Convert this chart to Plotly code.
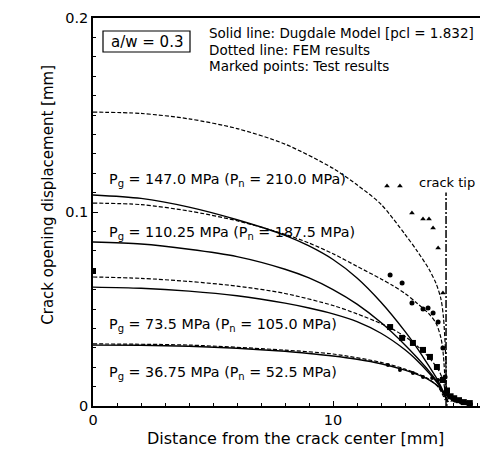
import plotly.graph_objects as go

# Crack opening displacement profiles, a/w = 0.3
# x: distance from crack center [mm], y: COD [mm]

# Dugdale model (solid lines)
dug_x = [0, 2, 4, 6, 8, 9, 10, 11, 12, 13, 13.5, 14, 14.4, 14.79]
dug_147_y = [0.1088, 0.1070, 0.1025, 0.0960, 0.0880, 0.0825, 0.0755, 0.0660, 0.0535, 0.0385, 0.0300, 0.0205, 0.0125, 0.0021]
dug_110_y = [0.0845, 0.0835, 0.0808, 0.0770, 0.0705, 0.0660, 0.0600, 0.0525, 0.0430, 0.0315, 0.0250, 0.0180, 0.0115, 0.0021]
dug_73_y = [0.0613, 0.0607, 0.0592, 0.0568, 0.0530, 0.0505, 0.0475, 0.0435, 0.0375, 0.0290, 0.0235, 0.0170, 0.0110, 0.0021]
dug_36_y = [0.0314, 0.0313, 0.0308, 0.0298, 0.0282, 0.0271, 0.0258, 0.0241, 0.0218, 0.0185, 0.0163, 0.0135, 0.0100, 0.0021]

# FEM results (dotted lines)
fem_147_x = [0, 2, 4, 6, 8, 10, 11, 12, 13, 13.5, 14, 14.3, 14.5, 14.6, 14.68, 14.72, 14.75]
fem_147_y = [0.1515, 0.1508, 0.1480, 0.1430, 0.1350, 0.1225, 0.1140, 0.1040, 0.0885, 0.0800, 0.0705, 0.0630, 0.0550, 0.0460, 0.0300, 0.0130, 0.0]
fem_110_x = [0, 2, 4, 6, 8, 9, 10, 11, 12, 12.5, 13, 13.5, 14, 14.3, 14.5, 14.6, 14.71]
fem_110_y = [0.1046, 0.1038, 0.1005, 0.0955, 0.0885, 0.0840, 0.0785, 0.0720, 0.0655, 0.0620, 0.0580, 0.0530, 0.0475, 0.0425, 0.0350, 0.0260, 0.0031]
fem_73_x = [0, 2, 4, 6, 8, 10, 11, 12, 12.5, 13, 13.5, 14, 14.4, 14.6, 14.71]
fem_73_y = [0.0665, 0.0658, 0.0642, 0.0618, 0.0580, 0.0518, 0.0475, 0.0425, 0.0395, 0.0358, 0.0310, 0.0250, 0.0185, 0.0125, 0.0031]
fem_36_x = [0, 4, 8, 10, 12, 13, 14, 14.4, 14.67]
fem_36_y = [0.0320, 0.0314, 0.0288, 0.0268, 0.0225, 0.0190, 0.0138, 0.0095, 0.0031]

# Test results (marked points)
test_147_x = [12.25, 12.79, 13.29, 13.75, 14.0, 14.17, 14.38, 14.58, 14.8, 15.0]
test_147_y = [0.1134, 0.1134, 0.0995, 0.0964, 0.0964, 0.0918, 0.0814, 0.0582, 0.006, 0.003]
test_110_x = [12.38, 12.88, 13.29, 13.75, 13.96, 14.17, 14.38, 14.58, 14.67, 14.85, 15.1, 15.35, 15.6]
test_110_y = [0.0675, 0.0634, 0.0531, 0.0500, 0.0505, 0.0479, 0.0433, 0.0299, 0.0149, 0.005, 0.003, 0.002, 0.0015]
test_73_x = [0, 12.38, 12.88, 13.33, 13.75, 14.04, 14.33, 14.58, 14.75, 14.9, 15.05, 15.25, 15.45, 15.7]
test_73_y = [0.0696, 0.0407, 0.0351, 0.0325, 0.0289, 0.0253, 0.0201, 0.0134, 0.008, 0.005, 0.004, 0.003, 0.002, 0.0015]
test_36_x = [12.29, 12.79, 13.33, 13.75, 14.13, 14.38, 14.7, 14.95, 15.2, 15.5, 15.75]
test_36_y = [0.0211, 0.0186, 0.0170, 0.0149, 0.0144, 0.0134, 0.008, 0.004, 0.003, 0.002, 0.001]

crack_tip_x = 14.71
crack_tip_top = 0.110

curve_labels = [
    ("P<sub>g</sub> = 147.0 MPa (P<sub>n</sub> = 210.0 MPa)", 0.1165),
    ("P<sub>g</sub> = 110.25 MPa (P<sub>n</sub> = 187.5 MPa)", 0.0892),
    ("P<sub>g</sub> = 73.5 MPa (P<sub>n</sub> = 105.0 MPa)", 0.0418),
    ("P<sub>g</sub> = 36.75 MPa (P<sub>n</sub> = 52.5 MPa)", 0.0170),
]
legend_lines = [
    "Solid line: Dugdale Model [pcl = 1.832]",
    "Dotted line: FEM results",
    "Marked points: Test results",
]

FONT = "DejaVu Sans, sans-serif"
L, T, W, H = 93, 18, 387, 388  # plot area in pixels


def px(xp):
    return (xp - L) / W


def py(yp):
    return (T + H - yp) / H


fig = go.Figure()

for ys in [dug_147_y, dug_110_y, dug_73_y, dug_36_y]:
    fig.add_trace(go.Scatter(x=dug_x, y=ys, mode="lines",
                             line=dict(color="black", width=1.4, shape="spline", smoothing=0.8),
                             showlegend=False))

for xs, ys in [(fem_147_x, fem_147_y), (fem_110_x, fem_110_y),
               (fem_73_x, fem_73_y), (fem_36_x, fem_36_y)]:
    fig.add_trace(go.Scatter(x=xs, y=ys, mode="lines",
                             line=dict(color="black", width=1.2, dash="4px,2px",
                                       shape="spline", smoothing=0.8),
                             showlegend=False))

for xs, ys, sym, sz in [(test_147_x, test_147_y, "triangle-up", 5),
                        (test_110_x, test_110_y, "circle", 5),
                        (test_73_x, test_73_y, "square", 6),
                        (test_36_x, test_36_y, "circle", 4)]:
    fig.add_trace(go.Scatter(x=xs, y=ys, mode="markers",
                             marker=dict(color="black", symbol=sym, size=sz, line=dict(width=0)),
                             showlegend=False))

# crack tip line
fig.add_trace(go.Scatter(x=[crack_tip_x, crack_tip_x], y=[0, crack_tip_top], mode="lines",
                         line=dict(color="black", width=1.5, dash="8px,2px,2px,2px"),
                         showlegend=False))

annotations = []
for text, yv in curve_labels:
    annotations.append(dict(x=0.58, y=yv, xref="x", yref="y", text=text, showarrow=False,
                            xanchor="left", yanchor="middle",
                            font=dict(family=FONT, size=14.3, color="black")))
for i, t in enumerate(legend_lines):
    annotations.append(dict(x=px(207), y=py(33 + 16.5 * i),
                            xref="paper", yref="paper", text=t, showarrow=False,
                            xanchor="left", yanchor="middle",
                            font=dict(family=FONT, size=13.5, color="black")))
annotations.append(dict(x=px(146.5), y=py(42), xref="paper", yref="paper",
                        text="a/w = 0.3", showarrow=False, xanchor="center", yanchor="middle",
                        font=dict(family=FONT, size=15, color="black")))
annotations.append(dict(x=13.5, y=0.115, xref="x", yref="y", text="crack tip", showarrow=False,
                        xanchor="left", yanchor="middle",
                        font=dict(family=FONT, size=13, color="black")))
annotations.append(dict(x=-0.117, y=py(195), xref="paper", yref="paper",
                        text="Crack opening displacement [mm]", showarrow=False, textangle=-90,
                        xanchor="center", yanchor="middle",
                        font=dict(family=FONT, size=15, color="black")))
annotations.append(dict(x=px(295), y=py(438), xref="paper", yref="paper",
                        text="Distance from the crack center [mm]", showarrow=False,
                        xanchor="center", yanchor="middle",
                        font=dict(family=FONT, size=16, color="black")))

fig.update_layout(
    width=480, height=451,
    margin=dict(l=93, r=0, t=18, b=45),
    paper_bgcolor="white", plot_bgcolor="white",
    annotations=annotations,
    shapes=[dict(type="rect", xref="paper", yref="paper",
                 x0=px(103), x1=px(190), y0=py(52), y1=py(31),
                 line=dict(color="black", width=1.2))],
    font=dict(family=FONT, color="black"),
)
fig.update_xaxes(range=[0, 16.125], showline=True, linecolor="black", linewidth=1.5,
                 mirror=True, showgrid=False, zeroline=False,
                 tickvals=[0, 10], ticktext=["0", "10"], ticks="inside", ticklen=5,
                 tickcolor="black", tickfont=dict(family=FONT, size=14.5),
                 minor=dict(dtick=1, ticks="inside", ticklen=3, tickcolor="black", showgrid=False))
fig.update_yaxes(range=[0, 0.2], showline=True, linecolor="black", linewidth=1.5,
                 showgrid=False, zeroline=False,
                 tickvals=[0, 0.1, 0.2], ticktext=["0", "0.1", "0.2"], ticks="inside", ticklen=5,
                 tickcolor="black", tickfont=dict(family=FONT, size=14.5),
                 minor=dict(dtick=0.01, ticks="inside", ticklen=3, tickcolor="black", showgrid=False))

fig.write_html("out.html")
